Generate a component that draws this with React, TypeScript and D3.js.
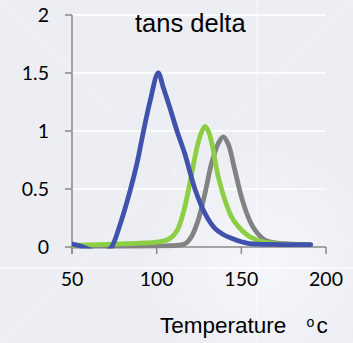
import * as d3 from 'd3';

// tan delta vs temperature, three samples
const blueTemp = [50, 55, 60, 65, 70, 73.4, 78.3, 84.2, 88.2, 92.1, 96, 100.9, 104, 107.8, 112, 116.7, 122.6, 128.5, 134.4, 139, 144.2, 150, 154, 160, 170, 180, 191];
const blueVal = [0.025, 0.008, -0.02, -0.05, -0.04, 0, 0.19, 0.48, 0.71, 0.99, 1.25, 1.5, 1.37, 1.2, 1.0, 0.8, 0.5, 0.29, 0.16, 0.11, 0.075, 0.045, 0.032, 0.025, 0.022, 0.02, 0.02];

const greenTemp = [50, 60, 70, 80, 90, 100, 105, 108, 112, 116, 120, 124, 126.5, 128.5, 130.5, 132.5, 136.3, 140.3, 144.2, 148, 152.1, 156, 162, 170, 180, 190];
const greenVal = [0.015, 0.018, 0.022, 0.027, 0.033, 0.042, 0.055, 0.075, 0.14, 0.31, 0.58, 0.87, 0.99, 1.04, 1.0, 0.9, 0.61, 0.405, 0.26, 0.18, 0.12, 0.08, 0.046, 0.03, 0.022, 0.02];

const grayTemp = [50, 70, 90, 105, 112, 117, 120.6, 124.5, 128.5, 132.4, 136.3, 139.3, 142.2, 146.2, 150.1, 154, 157.9, 163.9, 170, 180, 190];
const grayVal = [0.003, 0.004, 0.006, 0.01, 0.015, 0.03, 0.09, 0.23, 0.46, 0.72, 0.89, 0.95, 0.89, 0.66, 0.43, 0.26, 0.15, 0.06, 0.035, 0.025, 0.022];

const xTicks = [50, 100, 150, 200];
const yTicks = [0, 0.5, 1, 1.5, 2];

const W = 353;
const H = 343;

export default function App() {
  const x = d3.scaleLinear().domain([50, 200]).range([72, 326]);
  const y = d3.scaleLinear().domain([0, 2]).range([247, 15]);

  const line = d3
    .line<[number, number]>()
    .x((d) => x(d[0]))
    .y((d) => y(d[1]))
    .curve(d3.curveCatmullRom.alpha(0.5));

  const series = [
    { t: grayTemp, v: grayVal, color: '#828282' },
    { t: greenTemp, v: greenVal, color: '#8ccf45' },
    { t: blueTemp, v: blueVal, color: '#4152ad' },
  ];

  const axisColor = '#8a8a8a';
  const tickFont = 'Lato, "Open Sans", sans-serif';
  const textFont = '"Liberation Sans", Arial, sans-serif';

  return (
    <svg width={W} height={H} style={{ position: 'absolute', left: 0, top: 0 }}>
      <defs>
        <clipPath id="plot">
          <rect x={72} y={0} width={260} height={248.5} />
        </clipPath>
        <radialGradient id="glow" cx="0.74" cy="0.77" r="0.35">
          <stop offset="0" stopColor="#ffffff" stopOpacity={0.5} />
          <stop offset="1" stopColor="#ffffff" stopOpacity={0} />
        </radialGradient>
      </defs>
      <rect width={W} height={H} fill="#eceef4" />
      <rect width={W} height={H} fill="url(#glow)" />
      {/* faint background texture */}
      <line x1={257} x2={257} y1={0} y2={H} stroke="#ffffff" strokeOpacity={0.4} strokeWidth={2} />
      <line x1={0} x2={W} y1={268} y2={268} stroke="#ffffff" strokeOpacity={0.6} strokeWidth={2} />
      <line x1={0} x2={W} y1={0} y2={H} stroke="#ffffff" strokeOpacity={0.12} strokeWidth={3} />
      <line x1={W} x2={0} y1={0} y2={H} stroke="#ffffff" strokeOpacity={0.12} strokeWidth={3} />

      {/* gridlines */}
      {yTicks.filter((v) => v > 0).map((v) => (
        <line key={v} x1={x(50)} x2={x(200)} y1={y(v)} y2={y(v)} stroke="#ffffff" strokeWidth={1.6} />
      ))}

      {/* axes */}
      <line x1={x(50)} x2={x(50)} y1={y(2)} y2={y(0) + 7} stroke={axisColor} strokeWidth={1.5} />
      <line x1={x(50)} x2={x(200)} y1={y(0)} y2={y(0)} stroke={axisColor} strokeWidth={1.5} />
      {yTicks.map((v) => (
        <line key={v} x1={x(50) - 7} x2={x(50)} y1={y(v)} y2={y(v)} stroke={axisColor} strokeWidth={1.5} />
      ))}
      {xTicks.map((v) => (
        <line key={v} x1={x(v)} x2={x(v)} y1={y(0)} y2={y(0) + 7} stroke={axisColor} strokeWidth={1.5} />
      ))}

      {/* series */}
      <g clipPath="url(#plot)">
        {series.map((s) => (
          <path
            key={s.color}
            d={line(s.t.map((t, i) => [t, s.v[i]] as [number, number])) ?? ''}
            fill="none"
            stroke={s.color}
            strokeWidth={4.8}
            strokeLinejoin="round"
            strokeLinecap="round"
          />
        ))}
      </g>

      {/* tick labels */}
      {yTicks.map((v) => (
        <text key={v} x={49} y={y(v)} dy={6.8} textAnchor="end" fontFamily={tickFont} fontSize={19.5} fill="#000">
          {v}
        </text>
      ))}
      {xTicks.map((v) => (
        <text key={v} x={x(v)} y={286} textAnchor="middle" fontFamily={tickFont} fontSize={19.5} fill="#000">
          {v}
        </text>
      ))}

      <text x={135} y={31.5} fontFamily={textFont} fontSize={25.5} fill="#000">
        tans delta
      </text>
      <text x={160} y={333} fontFamily={textFont} fontSize={22.5} fill="#000">
        Temperature
      </text>
      <text x={306.5} y={327} fontFamily={textFont} fontSize={14} fill="#000">
        o
      </text>
      <text x={316.5} y={333} fontFamily={textFont} fontSize={22.5} fill="#000">
        c
      </text>
    </svg>
  );
}
